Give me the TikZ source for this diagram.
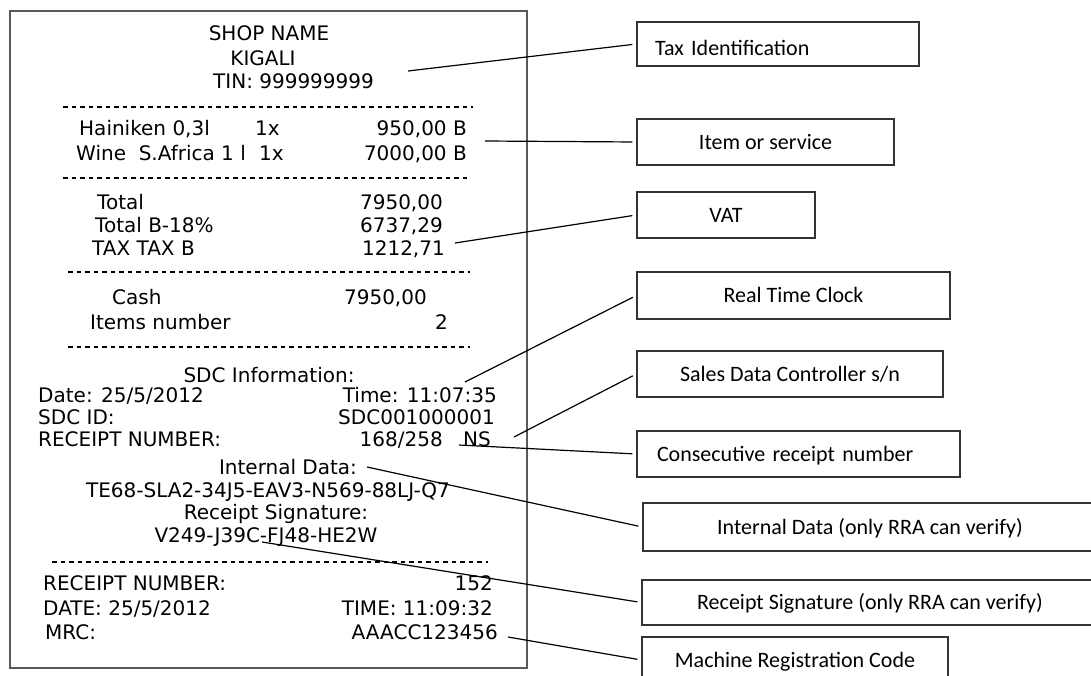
\documentclass[tikz,border=0pt]{standalone}
\usepackage{fontspec}
\newfontfamily\rfont{DejaVu Sans}
\newfontfamily\bfont{Carlito}
\begin{document}
\begin{tikzpicture}[x=1pt,y=-1pt,
  rtext/.style={font=\rfont\fontsize{20}{24}\selectfont, inner sep=0pt, text height=14.6pt, text depth=0pt},
  lbox/.style={draw=black!80, line width=1.3pt, font=\bfont\fontsize{22}{26}\selectfont, inner sep=0pt, text height=14.2pt, text depth=0pt},
  sepline/.style={line width=1.2pt, dash pattern=on 4.5pt off 4pt},
  conn/.style={line width=1.2pt, shorten >=4pt}]
\useasboundingbox (0,0) rectangle (1091,675);
\clip (0,0) rectangle (1091,675);
\fill[white] (0,0) rectangle (1091,675);

% receipt frame
\node (receipt) [draw=black!65, line width=2pt, minimum width=517pt, minimum height=657pt, inner sep=0pt] at (268.5,339.5) {};

% header
\node[rtext] (shop) at (269,33) {SHOP NAME};
\node[rtext] (kigali) at (263,58) {KIGALI};
\node[rtext, anchor=west] (tin) at (213,81) {TIN: 999999999};
\draw[sepline] (63,107) -- (473,107);

% items
\node[rtext, anchor=west] (it1) at (79,128) {Hainiken 0,3l};
\node[rtext, anchor=west] (it1q) at (255,128) {1x};
\node[rtext, anchor=east] (it1p) at (467,128) {950,00 B};
\node[rtext, anchor=west] (it2) at (76,153) {Wine~~S.Africa 1 l};
\node[rtext, anchor=west] (it2q) at (259,153) {1x};
\node[rtext, anchor=east] (it2p) at (467,153) {7000,00 B};
\draw[sepline] (63,178) -- (470,178);

% totals
\node[rtext, anchor=west] (tot) at (97,202) {Total};
\node[rtext, anchor=east] (totv) at (443,202) {7950,00};
\node[rtext, anchor=west] (totb) at (95,225) {Total B-18\%};
\node[rtext, anchor=east] (totbv) at (443,225) {6737,29};
\node[rtext, anchor=west] (taxb) at (92,248) {TAX TAX B};
\node[rtext, anchor=east] (taxbv) at (445,248) {1212,71};
\draw[sepline] (68,272) -- (470,272);

% payment
\node[rtext, anchor=west] (cash) at (112,297) {Cash};
\node[rtext, anchor=east] (cashv) at (427,297) {7950,00};
\node[rtext, anchor=west] (itn) at (90,322) {Items number};
\node[rtext, anchor=east] (itnv) at (448,322) {2};
\draw[sepline] (68,347) -- (470,347);

% SDC info
\node[rtext] (sdcinfo) at (269,375) {SDC Information:};
\node[rtext, anchor=west] (date) at (38,395) {Date: 25/5/2012};
\node[rtext, anchor=east] (time) at (497,395) {Time: 11:07:35};
\node[rtext, anchor=west] (sdcid) at (38,417) {SDC ID:};
\node[rtext, anchor=east] (sdcidv) at (495,417) {SDC001000001};
\node[rtext, anchor=west] (rcpt) at (38,439) {RECEIPT NUMBER:};
\node[rtext, anchor=east] (rcptv) at (443,439) {168/258};
\node[rtext, anchor=west] (rcptns) at (463,439) {NS};
\node[rtext] (intd) at (288,467) {Internal Data:};
\node[rtext] (intv) at (268,490) {TE68-SLA2-34J5-EAV3-N569-88LJ-Q7};
\node[rtext] (rsig) at (276,512) {Receipt Signature:};
\node[rtext] (rsigv) at (266,535) {V249-J39C-FJ48-HE2W};
\draw[sepline] (52,562) -- (488,562);

% footer
\node[rtext, anchor=west] (rn2) at (43,583) {RECEIPT NUMBER:};
\node[rtext, anchor=east] (rn2v) at (493,583) {152};
\node[rtext, anchor=west] (date2) at (43,608) {DATE: 25/5/2012};
\node[rtext, anchor=east] (time2) at (493,608) {TIME: 11:09:32};
\node[rtext, anchor=west] (mrc) at (45,632) {MRC:};
\node[rtext, anchor=east] (mrcv) at (498,632) {AAACC123456};

% label boxes
\node[lbox, minimum height=44pt, text height=22.2pt, text width=246pt, inner xsep=18pt, align=left] (bTax) at (778,44) {Tax Identification};
\node[lbox, minimum width=257pt, minimum height=46pt] (bItem) at (765.5,142) {Item or service};
\node[lbox, minimum width=178pt, minimum height=46pt] (bVat) at (726,215) {VAT};
\node[lbox, minimum width=313pt, minimum height=47pt] (bRtc) at (793.5,295.5) {Real Time Clock};
\node[lbox, minimum width=306pt, minimum height=46pt] (bSdc) at (790,374) {Sales Data Controller s/n};
\node[lbox, minimum height=46pt, text width=283pt, inner xsep=20pt, align=left] (bCons) at (798.5,454) {Consecutive receipt number};
\node[lbox, minimum width=454pt, minimum height=48pt] (bInt) at (870,527) {Internal Data (only RRA can verify)};
\node[lbox, minimum width=456pt, minimum height=45pt] (bSig) at (870,602.5) {Receipt Signature (only RRA can verify)};
\node[lbox, minimum width=306pt, minimum height=46pt] (bMrc) at (795,660) {Machine Registration Code};

% connector start points
\coordinate (cTin) at (408,71);
\coordinate (cItem) at (485,141);
\coordinate (cVat) at (455,243);
\coordinate (cTime) at (465,382);
\coordinate (cSdc) at (514,437);
\coordinate (cRcpt) at (459,445);
\coordinate (cInt) at (367,467);
\coordinate (cSig) at (262,542);
\coordinate (cMrc) at (508,637);

\draw[conn] (cTin) -- (bTax.west);
\draw[conn] (cItem) -- (bItem.west);
\draw[conn] (cVat) -- (bVat.west);
\draw[conn] (cTime) -- (bRtc.west);
\draw[conn] (cSdc) -- (bSdc.west);
\draw[conn] (cRcpt) -- (bCons.west);
\draw[conn] (cInt) -- (bInt.west);
\draw[conn] (cSig) -- (bSig.west);
\draw[conn] (cMrc) -- (bMrc.west);
\end{tikzpicture}
\end{document}
